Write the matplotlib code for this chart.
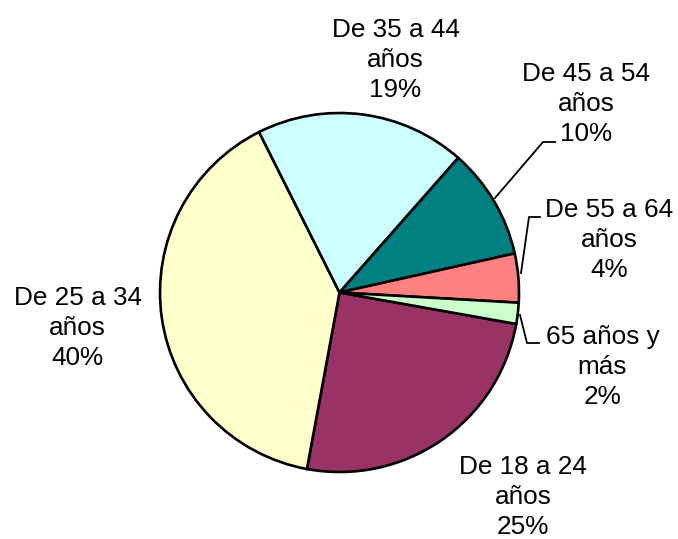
import matplotlib
matplotlib.use("Agg")
import matplotlib.pyplot as plt

categories = ["De 18 a 24\naños", "De 25 a 34\naños", "De 35 a 44\naños",
              "De 45 a 54\naños", "De 55 a 64\naños", "65 años y\nmás"]
values = [25.1, 39.7, 18.9, 10.0, 4.4, 1.9]
colors = ["#993366", "#FFFFCC", "#CCFFFF", "#008080", "#FF8080", "#CCFFCC"]

W, H = 678, 539
fig = plt.figure(figsize=(W / 100, H / 100), dpi=100)
ax = fig.add_axes([0, 0, 1, 1])

cx, cy, r = 339.5, H - 292.5, 179.5
ax.pie(values, colors=colors, startangle=-10.1, counterclock=False,
       center=(cx, cy), radius=r,
       wedgeprops=dict(edgecolor="black", linewidth=1.9))
ax.set_xlim(0, W)
ax.set_ylim(0, H)
ax.set_aspect("equal")
ax.axis("off")

# label positions (pixel coords, y from top)
label_pos = [(523, 497), (77.5, 328), (395.5, 60), (586, 104), (609.5, 240), (602.5, 367)]
for cat, v, (x, y) in zip(categories, values, label_pos):
    ax.text(x, H - y, f"{cat}\n{v:.0f}%", ha="center", va="center",
            fontsize=18.8, family="Liberation Sans", linespacing=1.33)

# leader lines
leaders = [
    [(495, 198), (543, 142), (555, 142)],
    [(521, 273), (529, 217), (540, 217)],
    [(520, 315), (527, 343), (539, 343)],
]
for pts in leaders:
    xs = [p[0] for p in pts]
    ys = [H - p[1] for p in pts]
    ax.plot(xs, ys, color="black", linewidth=1.3)

fig.savefig("out.png", dpi=100)
